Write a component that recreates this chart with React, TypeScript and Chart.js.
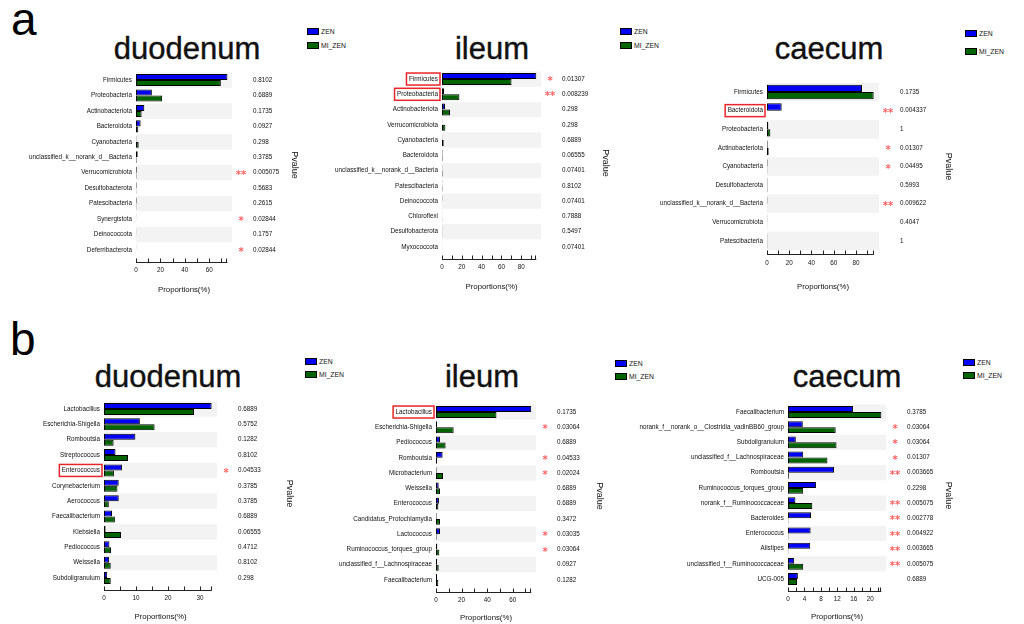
import React, { useEffect, useRef } from "react";
import { Chart, registerables } from "chart.js";
Chart.register(...registerables);

// ---------------- data ----------------
const aDuodenumTaxa = ["Firmicutes", "Proteobacteria", "Actinobacteriota", "Bacteroidota", "Cyanobacteria", "unclassified_k__norank_d__Bacteria", "Verrucomicrobiota", "Desulfobacterota", "Patescibacteria", "Synergistota", "Deinococcota", "Deferribacterota"];
const aDuodenumZEN = [74.9, 13.0, 6.8, 3.8, 0.3, 1.4, 0.6, 0.5, 0.5, 0.2, 0.2, 0.2];
const aDuodenumMIZEN = [69.5, 21.4, 4.6, 1.9, 2.2, 0.5, 0.4, 0.3, 0.3, 0.05, 0.05, 0.05];
const aDuodenumP = ["0.8102", "0.6889", "0.1735", "0.0927", "0.298", "0.3785", "0.005075", "0.5683", "0.2615", "0.02844", "0.1757", "0.02844"];
const aDuodenumTicks = [0, 20, 40, 60];

const aIleumTaxa = ["Firmicutes", "Proteobacteria", "Actinobacteriota", "Verrucomicrobiota", "Cyanobacteria", "Bacteroidota", "unclassified_k__norank_d__Bacteria", "Patescibacteria", "Deinococcota", "Chloroflexi", "Desulfobacterota", "Myxococcota"];
const aIleumZEN = [95.2, 2.0, 3.0, 0.3, 0.3, 0.5, 0.3, 0.3, 0.4, 0.2, 0.3, 0.2];
const aIleumMIZEN = [70.2, 17.6, 8.1, 3.4, 1.7, 0.6, 0.6, 0.5, 0.1, 0.3, 0.3, 0.1];
const aIleumP = ["0.01307", "0.008239", "0.298", "0.298", "0.6889", "0.06555", "0.07401", "0.8102", "0.07401", "0.7888", "0.5497", "0.07401"];
const aIleumTicks = [0, 20, 40, 60, 80];

const aCaecumTaxa = ["Firmicutes", "Bacteroidota", "Proteobacteria", "Actinobacteriota", "Cyanobacteria", "Desulfobacterota", "unclassified_k__norank_d__Bacteria", "Verrucomicrobiota", "Patescibacteria"];
const aCaecumZEN = [85.4, 13.2, 1.2, 0.6, 0.5, 0.4, 0.4, 0.3, 0.3];
const aCaecumMIZEN = [95.9, 0.1, 3.0, 1.5, 0.3, 0.4, 0.1, 0.2, 0.3];
const aCaecumP = ["0.1735", "0.004337", "1", "0.01307", "0.04495", "0.5993", "0.009622", "0.4047", "1"];
const aCaecumTicks = [0, 20, 40, 60, 80];

const bDuodenumTaxa = ["Lactobacillus", "Escherichia-Shigella", "Romboutsia", "Streptococcus", "Enterococcus", "Corynebacterium", "Aerococcus", "Faecalibacterium", "Klebsiella", "Pediococcus", "Weissella", "Subdoligranulum"];
const bDuodenumZEN = [33.6, 11.2, 9.8, 3.6, 5.6, 4.6, 4.6, 2.5, 0.5, 1.7, 1.6, 1.0];
const bDuodenumMIZEN = [28.1, 15.8, 3.0, 7.5, 3.1, 4.2, 1.5, 3.4, 5.3, 2.2, 2.1, 2.1];
const bDuodenumP = ["0.6889", "0.5752", "0.1282", "0.8102", "0.04533", "0.3785", "0.3785", "0.6889", "0.06555", "0.4712", "0.8102", "0.298"];
const bDuodenumTicks = [0, 10, 20, 30];

const bIleumTaxa = ["Lactobacillus", "Escherichia-Shigella", "Pediococcus", "Romboutsia", "Microbacterium", "Weissella", "Enterococcus", "Candidatus_Protochlamydia", "Lactococcus", "Ruminococcus_torques_group", "unclassified_f__Lachnospiraceae", "Faecalibacterium"];
const bIleumZEN = [74.5, 0.8, 3.1, 5.2, 0.5, 2.1, 2.3, 0.5, 3.1, 1.0, 0.8, 0.8];
const bIleumMIZEN = [47.3, 13.8, 7.5, 0.8, 5.5, 3.1, 1.8, 3.1, 0.5, 2.6, 2.1, 1.8];
const bIleumP = ["0.1735", "0.03064", "0.6889", "0.04533", "0.02024", "0.6889", "0.6889", "0.3472", "0.03035", "0.03064", "0.0927", "0.1282"];
const bIleumTicks = [0, 20, 40, 60];

const bCaecumTaxa = ["Faecalibacterium", "norank_f__norank_o__Clostridia_vadinBB60_group", "Subdoligranulum", "unclassified_f__Lachnospiraceae", "Romboutsia", "Ruminococcus_torques_group", "norank_f__Ruminococcaceae", "Bacteroides", "Enterococcus", "Alistipes", "unclassified_f__Ruminococcaceae", "UCG-005"];
const bCaecumZEN = [15.8, 3.6, 1.9, 3.7, 11.2, 6.8, 1.8, 5.6, 5.5, 5.4, 1.5, 2.4];
const bCaecumMIZEN = [22.7, 11.6, 11.8, 9.6, 0.2, 3.7, 5.9, 0.1, 0.1, 0.1, 3.7, 2.2];
const bCaecumP = ["0.3785", "0.03064", "0.03064", "0.01307", "0.003665", "0.2298", "0.005075", "0.002778", "0.004922", "0.003665", "0.005075", "0.6889"];
const bCaecumTicks = [0, 4, 8, 12, 16, 20];

const seriesNames = ["ZEN", "MI_ZEN"];

// ---------------- style ----------------
const BLUE = "#0000f5";
const GREEN = "#006400";
const BAND = "#f3f3f3";
const STAR = "#ff5f5f";
const BOX = "#e8262a";
const TEXT = "#111";
const SANS = "'Liberation Sans', Arial, sans-serif";
const SMALL = 6.3;

type Geo = { left: number; right: number; top: number; bottom: number; pvalueX: number; propY: number };

type PanelProps = {
  taxa: string[];
  zen: number[];
  mizen: number[];
  pvals: string[];
  tickLabels: number[];
  step: number;
  boxed: string[];
  geo: Geo;
};

function Panel({ taxa, zen, mizen, pvals, tickLabels, step, boxed, geo }: PanelProps) {
  const ref = useRef<HTMLCanvasElement>(null);
  const cx = Math.max(0, Math.round(geo.left - 175));
  const cy = Math.round(geo.top - 30);
  const cr = Math.round(geo.pvalueX + 5.4);
  const cb = Math.round(geo.propY + 5);
  const cw = cr - cx;
  const ch = cb - cy;

  useEffect(() => {
    const maxData = Math.max(...zen, ...mizen);
    const yW = geo.left - cx;
    const y2W = cr - geo.right;
    const xH = cb - geo.bottom;
    const padTop = geo.top - cy;
    const small = { family: SANS, size: SMALL };

    const decor = {
      id: "decor",
      beforeDatasetsDraw(chart: any) {
        const { ctx, chartArea } = chart;
        const ys = chart.scales.y;
        const n = taxa.length;
        const h = (chartArea.bottom - chartArea.top) / n;
        ctx.save();
        ctx.fillStyle = BAND;
        for (let i = 0; i < n; i += 2) {
          const c = ys.getPixelForValue(i);
          ctx.fillRect(chartArea.left, c - h / 2, chartArea.right - chartArea.left, h);
        }
        ctx.restore();
      },
      afterDraw(chart: any) {
        const { ctx, chartArea } = chart;
        const xs = chart.scales.x;
        const ys = chart.scales.y;
        ctx.save();
        // axis line and tick marks
        const ay = Math.round(chartArea.bottom + 4) + 0.5;
        const x0 = xs.getPixelForValue(0);
        const x1 = xs.getPixelForValue(maxData);
        ctx.strokeStyle = "#222";
        ctx.lineWidth = 1;
        ctx.beginPath();
        ctx.moveTo(x0, ay);
        ctx.lineTo(x1, ay);
        for (let v = 0; v <= maxData + 1e-9; v += step) {
          const px = Math.round(xs.getPixelForValue(v)) + 0.5;
          ctx.moveTo(px, ay);
          ctx.lineTo(px, ay - 4);
        }
        const pe = Math.round(x1) - 0.5;
        ctx.moveTo(pe, ay);
        ctx.lineTo(pe, ay - 4);
        ctx.stroke();
        // significance stars
        ctx.fillStyle = STAR;
        ctx.font = `bold 10px 'DejaVu Sans', sans-serif`;
        ctx.textAlign = "center";
        ctx.textBaseline = "middle";
        pvals.forEach((p, i) => {
          const v = parseFloat(p);
          const s = v < 0.01 ? "**" : v < 0.05 ? "*" : "";
          if (s) ctx.fillText(s, chartArea.right + 9, ys.getPixelForValue(i) + 2.5);
        });
        // red boxes around highlighted taxa
        ctx.font = `${SMALL}px ${SANS}`;
        ctx.strokeStyle = BOX;
        ctx.lineWidth = 1.5;
        boxed.forEach((name) => {
          const i = taxa.indexOf(name);
          if (i < 0) return;
          const w = ctx.measureText(name).width;
          const c = ys.getPixelForValue(i);
          const xr = chartArea.left - 2;
          const xl = chartArea.left - 4 - w - 2.5;
          ctx.strokeRect(xl, c - 6, xr - xl, 12);
        });
        ctx.restore();
      },
    };

    const chart = new Chart(ref.current as HTMLCanvasElement, {
      type: "bar",
      data: {
        labels: taxa,
        datasets: [
          { label: seriesNames[0], data: zen, backgroundColor: BLUE, borderColor: "#000", borderWidth: 1, borderSkipped: false, categoryPercentage: 0.78, barPercentage: 1 },
          { label: seriesNames[1], data: mizen, backgroundColor: GREEN, borderColor: "#000", borderWidth: 1, borderSkipped: false, categoryPercentage: 0.78, barPercentage: 1 },
        ],
      },
      options: {
        indexAxis: "y",
        responsive: false,
        maintainAspectRatio: false,
        animation: false,
        devicePixelRatio: 1,
        layout: { padding: { top: padTop, left: 0, right: 0, bottom: 0 } },
        plugins: { legend: { display: false }, tooltip: { enabled: false } },
        scales: {
          x: {
            type: "linear",
            min: 0,
            max: maxData * 1.05,
            grid: { display: false, drawTicks: false },
            border: { display: false },
            afterBuildTicks: (s: any) => { s.ticks = tickLabels.map((v) => ({ value: v })); },
            ticks: {
              autoSkip: false,
              maxRotation: 0,
              padding: 9,
              font: small,
              color: TEXT,
              callback: (v: any) => String(v),
            },
            title: { display: true, text: "Proportions(%)", font: { family: SANS, size: 7.8 }, color: TEXT, padding: 0 },
            afterFit: (s: any) => { s.height = xH; },
          },
          y: {
            type: "category",
            position: "left",
            grid: { display: false, drawTicks: false },
            border: { display: false },
            ticks: { padding: 4, font: small, color: TEXT, autoSkip: false },
            afterFit: (s: any) => { s.width = yW; },
          },
          y2: {
            type: "category",
            position: "right",
            labels: pvals,
            offset: true,
            grid: { display: false, drawTicks: false },
            border: { display: false },
            ticks: { padding: 21, font: small, color: TEXT, autoSkip: false },
            title: { display: true, text: "Pvalue", font: { family: SANS, size: 9 }, color: TEXT, padding: 0 },
            afterFit: (s: any) => { s.width = y2W; },
          },
        },
      } as any,
      plugins: [decor],
    });
    return () => chart.destroy();
  }, []);

  return <canvas ref={ref} width={cw} height={ch} style={{ position: "absolute", left: cx, top: cy, width: cw, height: ch }} />;
}

function Title({ text, cx, baseline }: { text: string; cx: number; baseline: number }) {
  const fs = 31;
  return (
    <div style={{ position: "absolute", left: cx, top: baseline - 0.8465 * fs, transform: "translateX(-50%)", fontFamily: SANS, fontSize: fs, lineHeight: `${fs}px`, color: "#111", WebkitTextStroke: "0.4px #111", whiteSpace: "nowrap" }}>
      {text}
    </div>
  );
}

function Legend({ x, y1, y2 }: { x: number; y1: number; y2: number }) {
  const item = (yc: number, color: string, name: string) => (
    <React.Fragment key={name}>
      <div style={{ position: "absolute", left: x, top: yc - 3.5, width: 10, height: 5, border: "1px solid #000", background: color }} />
      <div style={{ position: "absolute", left: x + 14, top: yc - 4.5, fontFamily: SANS, fontSize: 6.8, lineHeight: "9px", color: TEXT, whiteSpace: "nowrap" }}>{name}</div>
    </React.Fragment>
  );
  return (
    <>
      {item(y1, BLUE, seriesNames[0])}
      {item(y2, GREEN, seriesNames[1])}
    </>
  );
}

function Letter({ t, x, baseline }: { t: string; x: number; baseline: number }) {
  const fs = 46;
  return <div style={{ position: "absolute", left: x, top: baseline - 0.8465 * fs, fontFamily: SANS, fontSize: fs, lineHeight: `${fs}px`, color: "#000" }}>{t}</div>;
}

export default function App() {
  return (
    <div style={{ position: "fixed", left: 0, top: 0, width: 1024, height: 624, background: "#fff", overflow: "hidden" }}>
      <Letter t="a" x={11} baseline={35} />
      <Letter t="b" x={10} baseline={355} />

      <Title text="duodenum" cx={187} baseline={59} />
      <Title text="ileum" cx={492} baseline={59} />
      <Title text="caecum" cx={829} baseline={59} />
      <Title text="duodenum" cx={168} baseline={387} />
      <Title text="ileum" cx={482} baseline={387} />
      <Title text="caecum" cx={847} baseline={387} />

      <Legend x={307} y1={31} y2={45} />
      <Legend x={620} y1={31} y2={45} />
      <Legend x={965} y1={33} y2={51} />
      <Legend x={305} y1={361} y2={374} />
      <Legend x={615} y1={363} y2={376} />
      <Legend x={963} y1={362} y2={375} />

      <Panel taxa={aDuodenumTaxa} zen={aDuodenumZEN} mizen={aDuodenumMIZEN} pvals={aDuodenumP} tickLabels={aDuodenumTicks} step={10} boxed={[]}
        geo={{ left: 136, right: 232, top: 72.3, bottom: 257.7, pvalueX: 295, propY: 290 }} />
      <Panel taxa={aIleumTaxa} zen={aIleumZEN} mizen={aIleumMIZEN} pvals={aIleumP} tickLabels={aIleumTicks} step={10} boxed={["Firmicutes", "Proteobacteria"]}
        geo={{ left: 442, right: 541, top: 71.4, bottom: 254.6, pvalueX: 606, propY: 287 }} />
      <Panel taxa={aCaecumTaxa} zen={aCaecumZEN} mizen={aCaecumMIZEN} pvals={aCaecumP} tickLabels={aCaecumTicks} step={10} boxed={["Bacteroidota"]}
        geo={{ left: 767, right: 879, top: 82.7, bottom: 250.3, pvalueX: 949, propY: 287 }} />
      <Panel taxa={bDuodenumTaxa} zen={bDuodenumZEN} mizen={bDuodenumMIZEN} pvals={bDuodenumP} tickLabels={bDuodenumTicks} step={5} boxed={["Enterococcus"]}
        geo={{ left: 104, right: 217, top: 401.3, bottom: 585.7, pvalueX: 290, propY: 617 }} />
      <Panel taxa={bIleumTaxa} zen={bIleumZEN} mizen={bIleumMIZEN} pvals={bIleumP} tickLabels={bIleumTicks} step={10} boxed={["Lactobacillus"]}
        geo={{ left: 436, right: 536, top: 404.4, bottom: 587.6, pvalueX: 600, propY: 618 }} />
      <Panel taxa={bCaecumTaxa} zen={bCaecumZEN} mizen={bCaecumMIZEN} pvals={bCaecumP} tickLabels={bCaecumTicks} step={2} boxed={[]}
        geo={{ left: 788, right: 886, top: 404.4, bottom: 586.6, pvalueX: 949, propY: 617 }} />
    </div>
  );
}
